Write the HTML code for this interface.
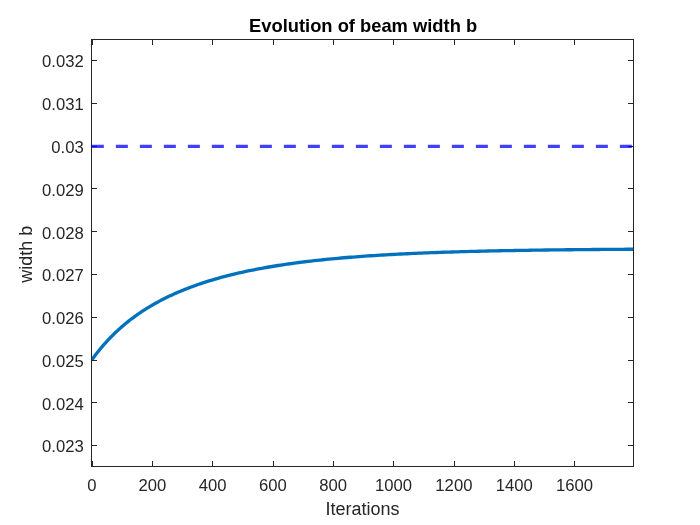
<!DOCTYPE html>
<html><head><meta charset="utf-8"><title>Evolution of beam width b</title>
<style>
html,body{margin:0;padding:0;background:#fff;}
svg{display:block;}
text{font-family:"Liberation Sans",sans-serif;fill:#262626;}
.tk text{font-size:16.67px;}
.lb{font-size:18px;}
.ttl{font-size:18.33px;font-weight:bold;fill:#000;}
</style></head><body>
<svg width="700" height="525" viewBox="0 0 700 525">
<rect width="700" height="525" fill="#fff"/>
<defs><clipPath id="axclip"><rect x="92" y="40" width="542" height="426.5"/></clipPath><clipPath id="dclip"><rect x="91" y="40" width="542" height="426"/></clipPath></defs>
<g clip-path="url(#axclip)">
<path d="M92.0,359.65 L93.0,358.27 L94.0,356.91 L95.0,355.58 L96.0,354.27 L97.0,352.98 L98.0,351.71 L99.0,350.46 L100.0,349.24 L101.0,348.03 L102.0,346.84 L103.0,345.67 L104.0,344.52 L105.0,343.39 L106.0,342.28 L107.0,341.18 L108.0,340.11 L109.0,339.04 L110.0,338.00 L111.0,336.97 L112.0,335.96 L113.0,334.96 L114.0,333.98 L115.0,333.01 L116.0,332.05 L117.0,331.11 L118.0,330.19 L119.0,329.28 L120.0,328.38 L121.0,327.49 L122.0,326.62 L123.0,325.76 L124.0,324.91 L125.0,324.07 L126.0,323.25 L127.0,322.43 L128.0,321.63 L129.0,320.84 L130.0,320.06 L131.0,319.29 L132.0,318.53 L133.0,317.79 L134.0,317.05 L135.0,316.32 L136.0,315.60 L137.0,314.89 L138.0,314.19 L139.0,313.50 L140.0,312.82 L141.0,312.14 L142.0,311.48 L143.0,310.82 L144.0,310.18 L145.0,309.54 L146.0,308.91 L147.0,308.28 L148.0,307.67 L149.0,307.06 L150.0,306.46 L151.0,305.87 L152.0,305.28 L153.0,304.70 L154.0,304.13 L155.0,303.57 L156.0,303.01 L157.0,302.46 L158.0,301.92 L159.0,301.38 L160.0,300.85 L161.0,300.32 L162.0,299.80 L163.0,299.29 L164.0,298.78 L165.0,298.28 L166.0,297.79 L167.0,297.30 L168.0,296.81 L169.0,296.34 L170.0,295.86 L171.0,295.40 L172.0,294.93 L173.0,294.48 L174.0,294.02 L175.0,293.58 L176.0,293.14 L177.0,292.70 L178.0,292.27 L179.0,291.84 L180.0,291.42 L181.0,291.00 L182.0,290.59 L183.0,290.18 L184.0,289.77 L185.0,289.37 L186.0,288.98 L187.0,288.59 L188.0,288.20 L189.0,287.82 L190.0,287.44 L191.0,287.06 L192.0,286.69 L193.0,286.32 L194.0,285.96 L195.0,285.60 L196.0,285.25 L197.0,284.90 L198.0,284.55 L199.0,284.20 L200.0,283.86 L203.0,282.86 L206.0,281.89 L209.0,280.95 L212.0,280.04 L215.0,279.15 L218.0,278.29 L221.0,277.46 L224.0,276.65 L227.0,275.87 L230.0,275.11 L233.0,274.37 L236.0,273.65 L239.0,272.95 L242.0,272.27 L245.0,271.62 L248.0,270.98 L251.0,270.36 L254.0,269.76 L257.0,269.17 L260.0,268.60 L263.0,268.05 L266.0,267.51 L269.0,266.99 L272.0,266.49 L275.0,265.99 L278.0,265.51 L281.0,265.05 L284.0,264.60 L287.0,264.16 L290.0,263.73 L293.0,263.31 L296.0,262.91 L299.0,262.52 L302.0,262.13 L305.0,261.76 L308.0,261.40 L311.0,261.05 L314.0,260.71 L317.0,260.38 L320.0,260.05 L323.0,259.74 L326.0,259.43 L329.0,259.14 L332.0,258.85 L335.0,258.57 L338.0,258.30 L341.0,258.03 L344.0,257.77 L347.0,257.52 L350.0,257.28 L353.0,257.04 L356.0,256.81 L359.0,256.58 L362.0,256.37 L365.0,256.15 L368.0,255.95 L371.0,255.75 L374.0,255.55 L377.0,255.36 L380.0,255.18 L383.0,255.00 L386.0,254.82 L389.0,254.65 L392.0,254.49 L395.0,254.32 L398.0,254.17 L401.0,254.02 L404.0,253.87 L407.0,253.72 L410.0,253.58 L413.0,253.45 L416.0,253.32 L419.0,253.19 L422.0,253.06 L425.0,252.94 L428.0,252.82 L431.0,252.71 L434.0,252.59 L437.0,252.48 L440.0,252.38 L443.0,252.27 L446.0,252.17 L449.0,252.08 L452.0,251.98 L455.0,251.89 L458.0,251.80 L461.0,251.71 L464.0,251.63 L467.0,251.54 L470.0,251.46 L473.0,251.39 L476.0,251.31 L479.0,251.24 L482.0,251.16 L485.0,251.09 L488.0,251.03 L491.0,250.96 L494.0,250.89 L497.0,250.83 L500.0,250.77 L503.0,250.71 L506.0,250.65 L509.0,250.60 L512.0,250.54 L515.0,250.49 L518.0,250.44 L521.0,250.39 L524.0,250.34 L527.0,250.29 L530.0,250.25 L533.0,250.20 L536.0,250.16 L539.0,250.11 L542.0,250.07 L545.0,250.03 L548.0,249.99 L551.0,249.96 L554.0,249.92 L557.0,249.88 L560.0,249.85 L563.0,249.81 L566.0,249.78 L569.0,249.75 L572.0,249.72 L575.0,249.69 L578.0,249.66 L581.0,249.63 L584.0,249.60 L587.0,249.57 L590.0,249.55 L593.0,249.52 L596.0,249.49 L599.0,249.47 L602.0,249.45 L605.0,249.42 L608.0,249.40 L611.0,249.38 L614.0,249.36 L617.0,249.34 L620.0,249.32 L623.0,249.30 L626.0,249.28 L629.0,249.26 L632.0,249.24 L633.5,249.23" fill="none" stroke="#0072BD" stroke-width="3.33" stroke-linejoin="round"/>
</g>
<g fill="none" stroke="#262626" stroke-width="1" shape-rendering="crispEdges">
<path d="M91.5,39.5 H633.5 V466.5 H91.5 Z" />
<path d="M92.5,466.5 v-5.4 M92.5,39.5 v5.4"/>
<path d="M152.5,466.5 v-5.4 M152.5,39.5 v5.4"/>
<path d="M212.5,466.5 v-5.4 M212.5,39.5 v5.4"/>
<path d="M273.5,466.5 v-5.4 M273.5,39.5 v5.4"/>
<path d="M333.5,466.5 v-5.4 M333.5,39.5 v5.4"/>
<path d="M393.5,466.5 v-5.4 M393.5,39.5 v5.4"/>
<path d="M454.5,466.5 v-5.4 M454.5,39.5 v5.4"/>
<path d="M514.5,466.5 v-5.4 M514.5,39.5 v5.4"/>
<path d="M574.5,466.5 v-5.4 M574.5,39.5 v5.4"/>
<path d="M91.5,445.5 h5.4 M633.5,445.5 h-5.4"/>
<path d="M91.5,402.5 h5.4 M633.5,402.5 h-5.4"/>
<path d="M91.5,360.5 h5.4 M633.5,360.5 h-5.4"/>
<path d="M91.5,317.5 h5.4 M633.5,317.5 h-5.4"/>
<path d="M91.5,274.5 h5.4 M633.5,274.5 h-5.4"/>
<path d="M91.5,231.5 h5.4 M633.5,231.5 h-5.4"/>
<path d="M91.5,188.5 h5.4 M633.5,188.5 h-5.4"/>
<path d="M91.5,146.5 h5.4 M633.5,146.5 h-5.4"/>
<path d="M91.5,103.5 h5.4 M633.5,103.5 h-5.4"/>
<path d="M91.5,60.5 h5.4 M633.5,60.5 h-5.4"/>
</g>
<g clip-path="url(#dclip)" opacity="0.75"><path d="M91.85,146.4 H633.5" fill="none" stroke="#0000ff" stroke-width="3.3" stroke-dasharray="12 12"/><path d="M91,146.4 H91.85" fill="none" stroke="#0000ff" stroke-width="3.3"/></g>
<g class="tk">
<text x="92.0" y="490.6" text-anchor="middle">0</text>
<text x="152.3" y="490.6" text-anchor="middle">200</text>
<text x="212.6" y="490.6" text-anchor="middle">400</text>
<text x="272.9" y="490.6" text-anchor="middle">600</text>
<text x="333.2" y="490.6" text-anchor="middle">800</text>
<text x="393.6" y="490.6" text-anchor="middle">1000</text>
<text x="453.9" y="490.6" text-anchor="middle">1200</text>
<text x="514.2" y="490.6" text-anchor="middle">1400</text>
<text x="574.5" y="490.6" text-anchor="middle">1600</text>
<text x="83.7" y="452.4" text-anchor="end">0.023</text>
<text x="83.7" y="409.6" text-anchor="end">0.024</text>
<text x="83.7" y="366.8" text-anchor="end">0.025</text>
<text x="83.7" y="324.0" text-anchor="end">0.026</text>
<text x="83.7" y="281.2" text-anchor="end">0.027</text>
<text x="83.7" y="238.5" text-anchor="end">0.028</text>
<text x="83.7" y="195.7" text-anchor="end">0.029</text>
<text x="83.7" y="152.9" text-anchor="end">0.03</text>
<text x="83.7" y="110.1" text-anchor="end">0.031</text>
<text x="83.7" y="67.3" text-anchor="end">0.032</text>
</g>
<text class="lb" x="362.5" y="515" text-anchor="middle">Iterations</text>
<text class="lb" transform="translate(31.8,254.3) rotate(-90)" text-anchor="middle">width b</text>
<text class="ttl" x="363.1" y="31.5" text-anchor="middle">Evolution of beam width b</text>
</svg>
</body></html>
